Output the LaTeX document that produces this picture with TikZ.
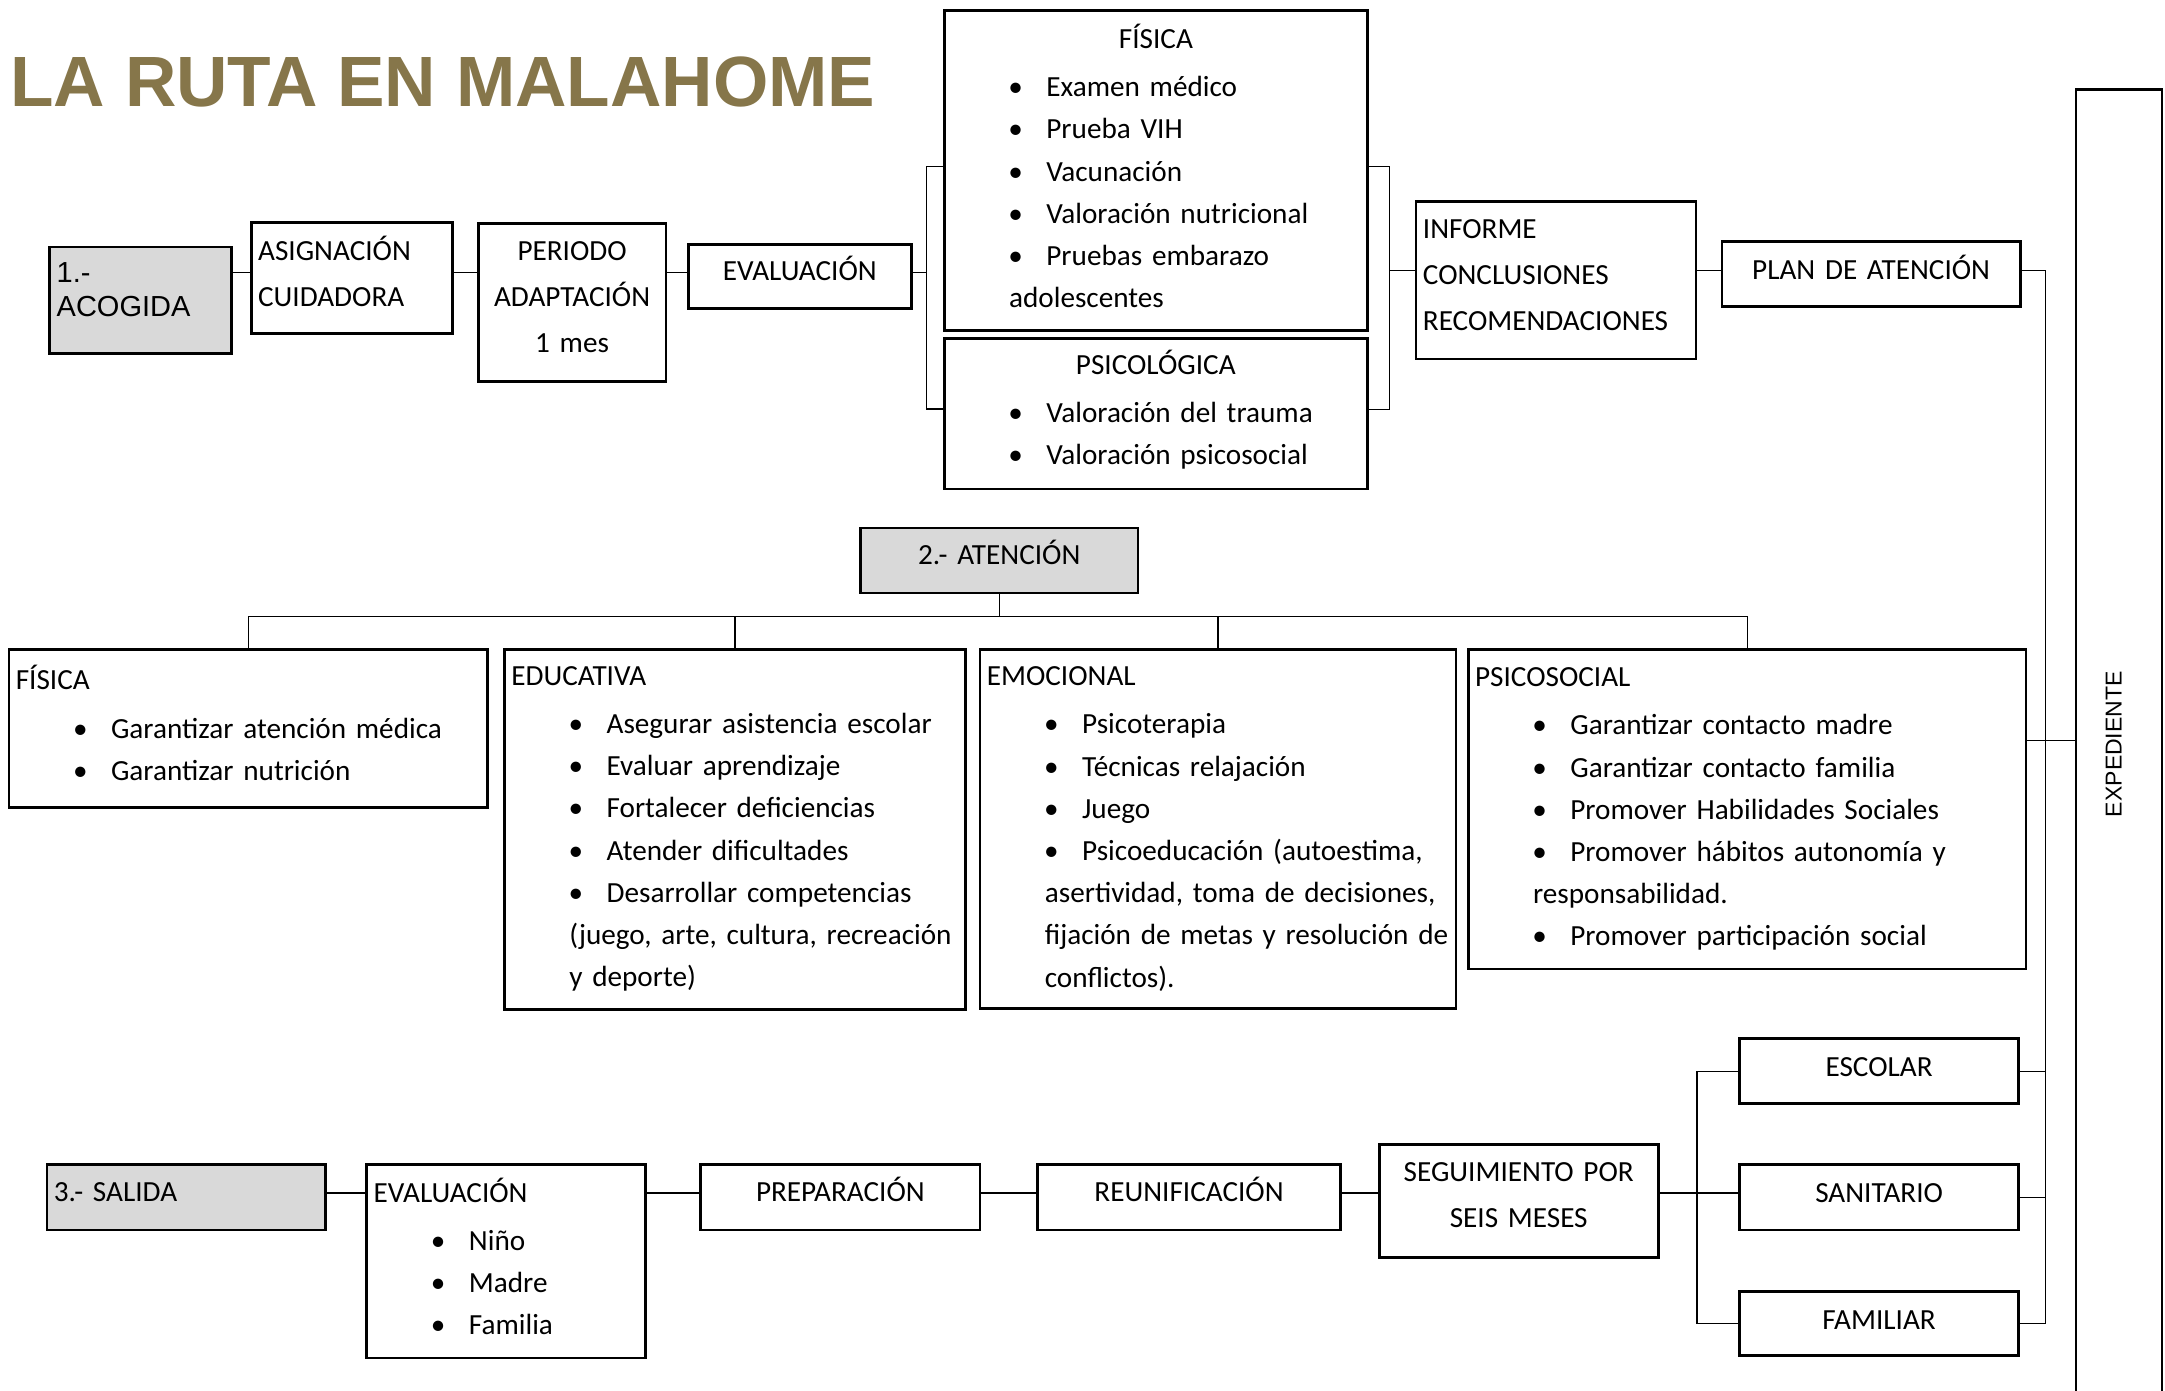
\documentclass[tikz,border=0pt]{standalone}
\usepackage{fontspec}
\usepackage{graphicx}
\setmainfont{Carlito}
\newfontfamily\arialf{Liberation Sans}
\definecolor{titlecol}{RGB}{134,118,74}
\definecolor{boxgray}{RGB}{217,217,217}
\newlength\pxu
\setlength\pxu{0.69035pt}
\newcommand\bul[1]{\hspace*{41.5\pxu}\makebox[27.5\pxu][l]{\textbullet}\mbox{#1}}
\newcommand\cnt[1]{\hspace*{42\pxu}\mbox{#1}}
% name, x1, y1, x2, y2, depth (pt), options, content
\newcommand\mkbx[8]{%
  \pgfmathsetmacro\tw{(#4-#2-10)*0.69035}%
  \pgfmathsetmacro\bw{(#4-#2)*0.69035}%
  \pgfmathsetmacro\bh{(#5-#3)*0.69035}%
  \node[bx, anchor=north west, inner xsep=3.45175pt, text width=\tw pt,
        minimum width=\bw pt, minimum height=\bh pt, #7] (#1) at (#2,#3)
        {\rule{0pt}{13pt}#8\rule[-#6pt]{0pt}{#6pt}};}
\tikzset{
  bx/.style={draw, line width=1.3pt, rectangle, inner ysep=0pt,
             font=\fontsize{14.6}{21.1}\selectfont, align=left},
  conn/.style={line width=0.6pt}
}
\begin{document}
\begin{tikzpicture}[x=0.69035pt, y=-0.69035pt]
\useasboundingbox (0,0) rectangle (1568,1007);
\clip (0,0) rectangle (1568,1007);

\node[anchor=base west, text=titlecol, inner sep=0pt,
      font=\arialf\bfseries\fontsize{35.6}{40}\selectfont] (title) at (7.3,77.3) {LA RUTA EN MALAHOME};

% ---- 1. ACOGIDA row
\mkbx{acog}{35.1}{178}{166.7}{255.2}{14.2}{fill=boxgray, font=\arialf\fontsize{14.5}{17.1}\selectfont}{1.-\\ACOGIDA}
\mkbx{asig}{181}{160}{326.6}{240.7}{7.6}{}{ASIGNACIÓN\\[2pt]CUIDADORA}
\mkbx{per}{345.5}{160.8}{481.3}{275.2}{8.7}{align=center}{PERIODO\\[2pt]ADAPTACIÓN\\[2pt]1 mes}
\mkbx{eval}{497.5}{176}{659.1}{222.6}{8.9}{align=center}{EVALUACIÓN}
\mkbx{fisA}{682.9}{6.8}{989.6}{238.5}{5.7}{}{\makebox[\tw pt][c]{FÍSICA}\\[3.1pt]\bul{Examen médico}\\\bul{Prueba VIH}\\\bul{Vacunación}\\\bul{Valoración nutricional}\\\bul{Pruebas embarazo}\\\cnt{adolescentes}}
\mkbx{psiA}{682.9}{244.3}{989.4}{353.2}{7.5}{}{\makebox[\tw pt][c]{PSICOLÓGICA}\\[3.1pt]\bul{Valoración del trauma}\\\bul{Valoración psicosocial}}
\mkbx{inf}{1024.6}{144.9}{1227.4}{259}{8.6}{}{INFORME\\[2pt]CONCLUSIONES\\[2pt]RECOMENDACIONES}
\mkbx{plan}{1246.1}{173.8}{1462.3}{220.9}{7.1}{align=center}{PLAN DE ATENCIÓN}

% ---- EXPEDIENTE
\node[bx, anchor=north west, inner sep=0pt, align=center,
      minimum width={(1565-1502.6)*0.69035pt}, minimum height={(1012-64)*0.69035pt},
      font=\arialf\fontsize{11.5}{12}\selectfont] (exp) at (1502.6,64)
      {\rotatebox{90}{EXPEDIENTE}\hspace{5.5pt}};

% ---- 2. ATENCION
\mkbx{aten}{622.2}{381.5}{823.3}{428.5}{8.9}{align=center, fill=boxgray}{2.- ATENCIÓN}
\mkbx{fisB}{5.5}{469.6}{352}{583.8}{6.4}{}{FÍSICA\\[3.1pt]\bul{Garantizar atención médica}\\\bul{Garantizar nutrición}}
\mkbx{edu}{364.4}{469.6}{698.4}{730.3}{6.7}{}{EDUCATIVA\\[3.1pt]\bul{Asegurar asistencia escolar}\\\bul{Evaluar aprendizaje}\\\bul{Fortalecer deficiencias}\\\bul{Atender dificultades}\\\bul{Desarrollar competencias}\\\cnt{(juego, arte, cultura, recreación}\\\cnt{y deporte)}}
\mkbx{emo}{708.8}{469.6}{1053.5}{729.4}{5.8}{}{EMOCIONAL\\[3.1pt]\bul{Psicoterapia}\\\bul{Técnicas relajación}\\\bul{Juego}\\\bul{Psicoeducación (autoestima,}\\\cnt{asertividad, toma de decisiones,}\\\cnt{fijación de metas y resolución de}\\\cnt{conflictos).}}
\mkbx{psB}{1062.4}{469.6}{1466.5}{700.9}{6.1}{}{PSICOSOCIAL\\[3.1pt]\bul{Garantizar contacto madre}\\\bul{Garantizar contacto familia}\\\bul{Promover Habilidades Sociales}\\\bul{Promover hábitos autonomía y}\\\cnt{responsabilidad.}\\\bul{Promover participación social}}

% ---- 3. SALIDA row
\mkbx{sal}{33}{842.5}{234.7}{890}{9}{fill=boxgray}{3.- SALIDA}
\mkbx{evB}{264.7}{842.5}{466.4}{982.6}{5.8}{}{EVALUACIÓN\\[3.1pt]\bul{Niño}\\\bul{Madre}\\\bul{Familia}}
\mkbx{prep}{506.6}{842.5}{708.8}{890}{9.1}{align=center}{PREPARACIÓN}
\mkbx{reun}{750.4}{842.5}{970}{890}{9.1}{align=center}{REUNIFICACIÓN}
\mkbx{seg}{998}{828}{1200}{909.6}{9.3}{align=center}{SEGUIMIENTO POR\\[2pt]SEIS MESES}
\mkbx{esc}{1259}{751.3}{1461}{798.4}{7.8}{align=center}{ESCOLAR}
\mkbx{san}{1259}{842.6}{1461}{889.9}{8.1}{align=center}{SANITARIO}
\mkbx{fam}{1259}{934.3}{1461}{980.7}{6.7}{align=center}{FAMILIAR}

% ---- junction coordinates
\coordinate (rowA) at (0,197.2);
\coordinate (rowC) at (0,864);
\coordinate (rowX) at (0,536.5);
\coordinate (bL) at (671.2,197.5);
\coordinate (bR) at (1006.5,196);
\coordinate (tTop) at (1481.5,196);
\coordinate (bS) at (1229,864);
\coordinate (tA) at (722.75,446.6);

% ---- connectors, row 1
\draw[conn] (acog.east |- rowA) -- (asig.west |- rowA);
\draw[conn] (asig.east |- rowA) -- (per.west |- rowA);
\draw[conn] (per.east |- rowA) -- (eval.west |- rowA);
\draw[conn] (eval.east |- bL) -- (bL);
\draw[conn] (fisA.west |- 0,120.7) -| (bL) |- (psiA.west |- 0,296.2);
\draw[conn] (fisA.east |- 0,120.7) -| (bR) |- (psiA.east |- 0,296.5);
\draw[conn] (bR) -- (inf.west |- bR);
\draw[conn] (inf.east |- bR) -- (plan.west |- bR);

% ---- right trunk to EXPEDIENTE
\draw[conn] (plan.east |- tTop) -- (tTop) -- (tTop |- fam.east) -- (fam.east);
\draw[conn] (esc.east) -- (esc.east -| tTop);
\draw[conn] (san.east) -- (san.east -| tTop);
\draw[conn] (psB.east |- rowX) -- (exp.west |- rowX);

% ---- tree of ATENCION
\draw[conn] (aten.south) -- (aten.south |- tA);
\draw[conn] (fisB.north) |- (tA) -| (psB.north);
\draw[conn] (edu.north) -- (edu.north |- tA);
\draw[conn] (emo.north) -- (emo.north |- tA);

% ---- connectors, row 3
\draw[conn] (sal.east |- rowC) -- (evB.west |- rowC);
\draw[conn] (evB.east |- rowC) -- (prep.west |- rowC);
\draw[conn] (prep.east |- rowC) -- (reun.west |- rowC);
\draw[conn] (reun.east |- rowC) -- (seg.west |- rowC);
\draw[conn] (seg.east |- bS) -- (bS);
\draw[conn] (esc.west) -| (bS) |- (fam.west);
\draw[conn] (bS) -- (san.west |- bS);
\end{tikzpicture}
\end{document}
